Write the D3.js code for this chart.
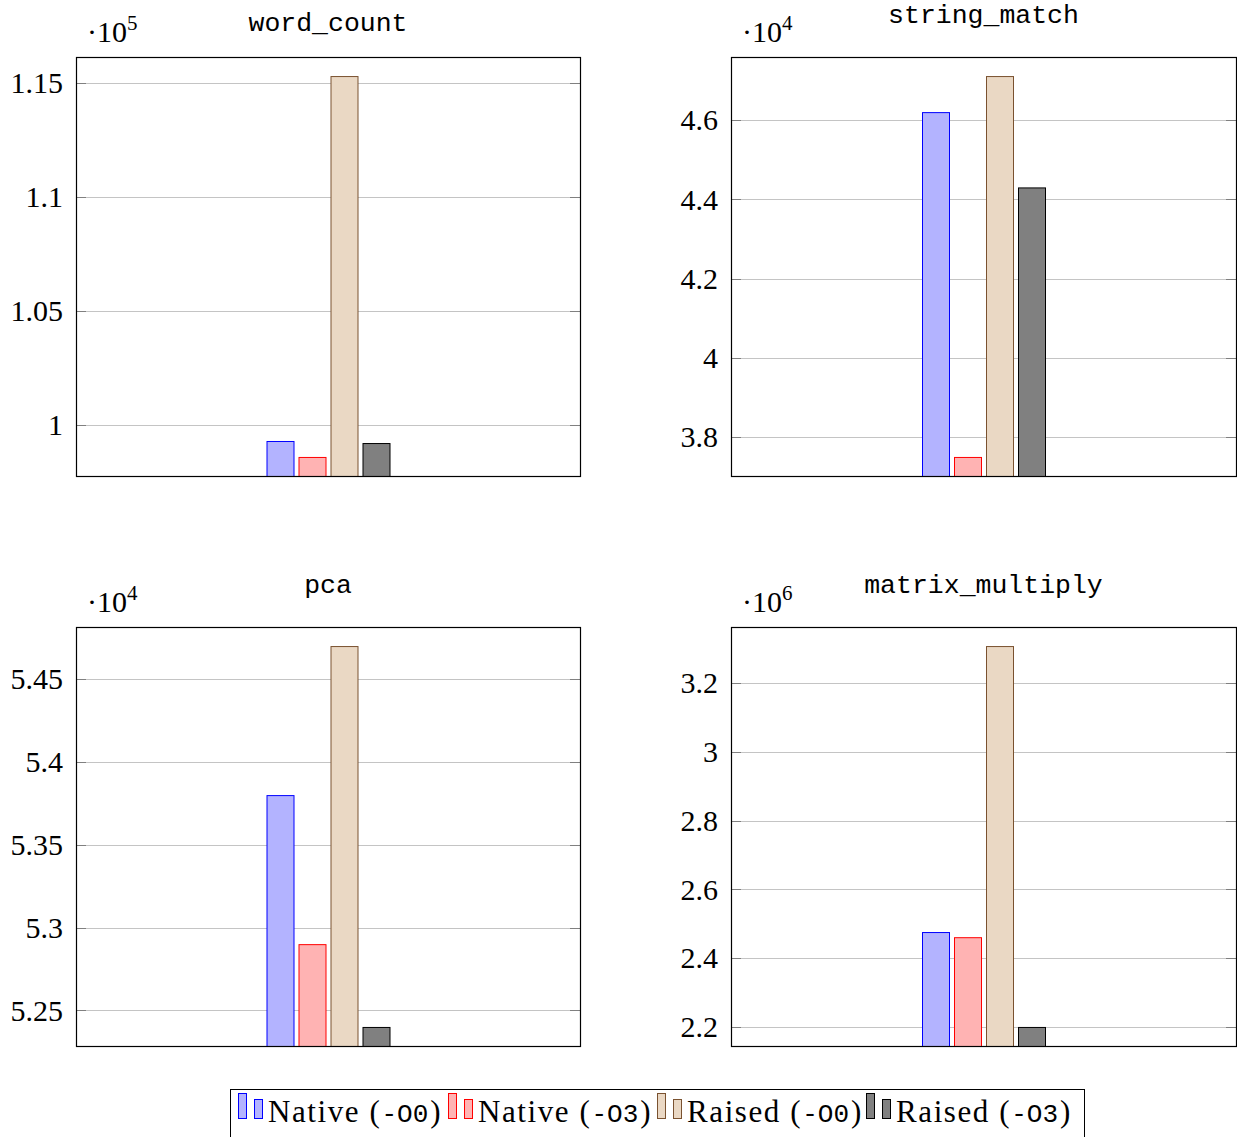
<!DOCTYPE html>
<html>
<head>
<meta charset="utf-8">
<script src="https://cdn.jsdelivr.net/npm/d3@7"></script>
<style>
  html, body { margin: 0; padding: 0; background: #fff; }
  svg { display: block; }
</style>
</head>
<body>
<svg id="chart" width="1237" height="1137"></svg>
<script>
// ---------- DATA ----------
const seriesNames = ["Native (-O0)", "Native (-O3)", "Raised (-O0)", "Raised (-O3)"];
const seriesLabelParts = [["Native (", "-O0", ")"], ["Native (", "-O3", ")"], ["Raised (", "-O0", ")"], ["Raised (", "-O3", ")"]];
const seriesFill = ["#b3b3ff", "#ffb3b3", "#ead8c4", "#808080"];
const seriesStroke = ["#0000ff", "#ff0000", "#7a5230", "#000000"];

const panelTitles = ["word_count", "string_match", "pca", "matrix_multiply"];

const wordCountValues   = [99300, 98600, 115300, 99210];
const stringMatchValues = [46200, 37500, 47110, 44300];
const pcaValues         = [53800, 52900, 54700, 52400];
const matrixMultValues  = [2476000, 2461000, 3307600, 2200000];

const wordCountTicks   = [100000, 105000, 110000, 115000];
const wordCountTickLabels = ["1", "1.05", "1.1", "1.15"];
const stringMatchTicks = [38000, 40000, 42000, 44000, 46000];
const stringMatchTickLabels = ["3.8", "4", "4.2", "4.4", "4.6"];
const pcaTicks = [52500, 53000, 53500, 54000, 54500];
const pcaTickLabels = ["5.25", "5.3", "5.35", "5.4", "5.45"];
const matrixMultTicks = [2200000, 2400000, 2600000, 2800000, 3000000, 3200000];
const matrixMultTickLabels = ["2.2", "2.4", "2.6", "2.8", "3", "3.2"];

const exponents = ["5", "4", "4", "6"];

// ---------- LAYOUT ----------
const svg = d3.select("#chart");
const serif = "'Liberation Serif', 'DejaVu Serif', serif";
const mono = "'Liberation Mono', 'DejaVu Sans Mono', monospace";

const panels = [
  { title: panelTitles[0], values: wordCountValues, ticks: wordCountTicks, labels: wordCountTickLabels, exp: exponents[0], x: 76, y: 57, w: 504, h: 419, titleY: 31 },
  { title: panelTitles[1], values: stringMatchValues, ticks: stringMatchTicks, labels: stringMatchTickLabels, exp: exponents[1], x: 731, y: 57, w: 505, h: 419, titleY: 23 },
  { title: panelTitles[2], values: pcaValues, ticks: pcaTicks, labels: pcaTickLabels, exp: exponents[2], x: 76, y: 627, w: 504, h: 419, titleY: 593 },
  { title: panelTitles[3], values: matrixMultValues, ticks: matrixMultTicks, labels: matrixMultTickLabels, exp: exponents[3], x: 731, y: 627, w: 505, h: 419, titleY: 593 }
];

panels.forEach((p, pi) => {
  const g = svg.append("g").attr("transform", `translate(${p.x},${p.y})`);
  const lo = d3.min(p.values), hi = d3.max(p.values);
  const pad = (hi - lo) * 0.05;
  const y = d3.scaleLinear().domain([lo - pad, hi + pad]).range([p.h, 0]);

  const x0 = d3.scaleBand().domain(["run"]).range([0, p.w]).paddingInner(0).paddingOuter((p.w / 128 - 1) / 2);
  const x1 = d3.scaleBand().domain(seriesNames).range([0, x0.bandwidth()]).paddingInner(5 / 32).paddingOuter(5 / 64);

  const clipId = "clip" + pi;
  g.append("clipPath").attr("id", clipId).append("rect").attr("width", p.w).attr("height", p.h);

  // grid
  g.append("g").selectAll("line").data(p.ticks).join("line")
    .attr("x1", 0).attr("x2", p.w)
    .attr("y1", d => Math.round(y(d)) + 0.5).attr("y2", d => Math.round(y(d)) + 0.5)
    .attr("stroke", "#c4c4c4").attr("stroke-width", 1);

  // inner ticks
  const tk = g.append("g");
  tk.selectAll("line.l").data(p.ticks).join("line").attr("class", "l")
    .attr("x1", 0).attr("x2", 10)
    .attr("y1", d => Math.round(y(d)) + 0.5).attr("y2", d => Math.round(y(d)) + 0.5)
    .attr("stroke", "#808080");
  tk.selectAll("line.r").data(p.ticks).join("line").attr("class", "r")
    .attr("x1", p.w - 10).attr("x2", p.w)
    .attr("y1", d => Math.round(y(d)) + 0.5).attr("y2", d => Math.round(y(d)) + 0.5)
    .attr("stroke", "#808080");

  // bars
  g.append("g").attr("clip-path", `url(#${clipId})`)
    .selectAll("rect").data(p.values).join("rect")
    .attr("x", (d, i) => x0("run") + x1(seriesNames[i]) + 0.5)
    .attr("y", d => y(d) + 0.5)
    .attr("width", x1.bandwidth())
    .attr("height", d => p.h - y(d) + 2)
    .attr("fill", (d, i) => seriesFill[i])
    .attr("stroke", (d, i) => seriesStroke[i])
    .attr("stroke-width", 1);

  // axis box
  g.append("rect").attr("x", 0.5).attr("y", 0.5).attr("width", p.w).attr("height", p.h)
    .attr("fill", "none").attr("stroke", "#000").attr("stroke-width", 1.2);

  // tick labels
  g.append("g").selectAll("text").data(p.ticks).join("text")
    .attr("x", -13).attr("y", d => y(d)).attr("dy", "0.34em")
    .attr("text-anchor", "end")
    .attr("font-family", serif).attr("font-size", 30)
    .text((d, i) => p.labels[i]);

  // exponent label
  const ex = g.append("text").attr("x", 11).attr("y", 42 - 57)
    .attr("font-family", serif).attr("font-size", 30);
  ex.append("tspan").text("·10");
  ex.append("tspan").attr("font-size", 21).attr("dy", -12).text(p.exp);

  // title
  svg.append("text").attr("x", p.x + p.w / 2).attr("y", p.titleY)
    .attr("text-anchor", "middle")
    .attr("font-family", mono).attr("font-size", 26.5)
    .text(p.title);
});

// ---------- LEGEND ----------
const legend = svg.append("g");
legend.append("rect").attr("x", 230.5).attr("y", 1089.5).attr("width", 854).attr("height", 60)
  .attr("fill", "#fff").attr("stroke", "#000").attr("stroke-width", 1);
const legendX = [238, 448, 657, 866];
seriesNames.forEach((s, i) => {
  const lx = legendX[i];
  legend.append("rect").attr("x", lx + 0.5).attr("y", 1093.5).attr("width", 8).attr("height", 25)
    .attr("fill", seriesFill[i]).attr("stroke", seriesStroke[i]);
  legend.append("rect").attr("x", lx + 16.5).attr("y", 1099.5).attr("width", 8).attr("height", 19)
    .attr("fill", seriesFill[i]).attr("stroke", seriesStroke[i]);
  const t = legend.append("text").attr("x", lx + 30).attr("y", 1122)
    .attr("font-family", serif).attr("font-size", 31);
  const parts = seriesLabelParts[i];
  t.append("tspan").attr("letter-spacing", 1.6).text(parts[0]);
  t.append("tspan").attr("font-family", mono).attr("font-size", 26).attr("letter-spacing", 0).text(parts[1]);
  t.append("tspan").attr("dx", 2).text(parts[2]);
});
</script>
</body>
</html>
